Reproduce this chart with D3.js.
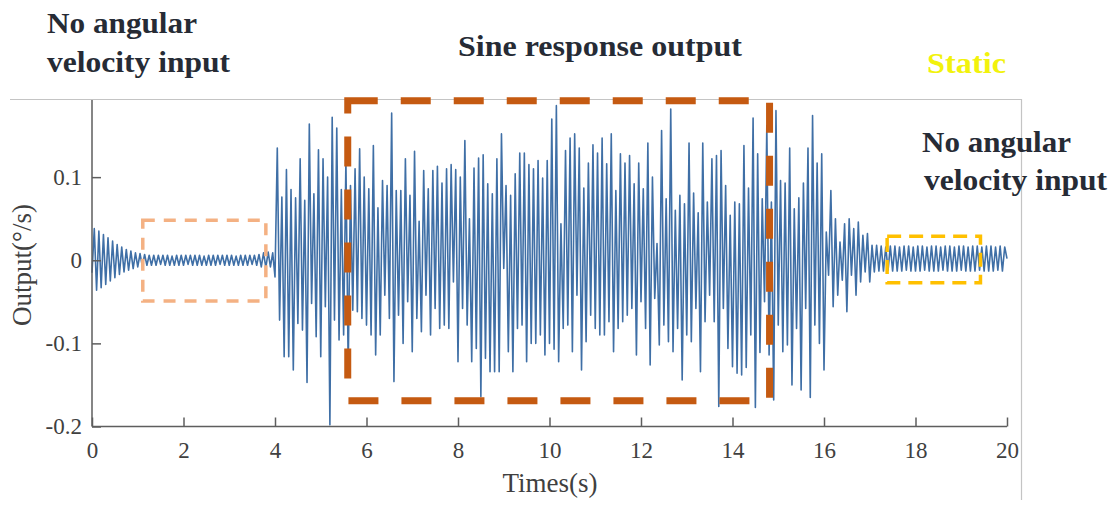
<!DOCTYPE html>
<html>
<head>
  <meta charset="utf-8">
  <script src="https://cdn.jsdelivr.net/npm/d3@7"></script>
  <style>
    body {
      margin: 0;
      background-color: #ffffff;
      font-family: "Liberation Serif", "Times New Roman", serif;
    }
    .axis path, .axis line {
      stroke: #5e5e5e;
      stroke-width: 1.5;
    }
    .axis text {
      font-family: "Liberation Serif", "Times New Roman", serif;
      font-size: 23px;
      fill: #404040;
    }
    .note {
      font-family: "Liberation Serif", "Times New Roman", serif;
      font-weight: 700;
      fill: #262b35;
    }
  </style>
</head>
<body>
<script>
  // sampled output, one value every sampleStep seconds (alternating troughs/peaks)
  var sampleStep = 0.05;

  // 0 - 4 s : no angular velocity input
  var quietSegment = [
    -0.015, 0.038, -0.036, 0.035, -0.033, 0.031, -0.029, 0.027, -0.025, 0.023,
    -0.021, 0.019, -0.017, 0.016, -0.014, 0.013, -0.012, 0.011, -0.010, 0.009,
    -0.008, 0.008, -0.007, 0.007, -0.006, 0.006, -0.006, 0.006, -0.006, 0.006,
    -0.005, 0.006, -0.006, 0.006, -0.006, 0.005, -0.006, 0.006, -0.006, 0.006,
    -0.006, 0.006, -0.005, 0.006, -0.006, 0.006, -0.006, 0.006, -0.006, 0.005,
    -0.006, 0.006, -0.006, 0.006, -0.006, 0.006, -0.005, 0.006, -0.006, 0.006,
    -0.006, 0.006, -0.006, 0.005, -0.006, 0.006, -0.006, 0.006, -0.006, 0.006,
    -0.005, 0.006, -0.006, 0.007, -0.008, 0.009, -0.009, 0.010, -0.008, 0.009
  ];

  // 4 - 16 s : sine response output
  var sineSegment = [
    -0.020, 0.135, -0.072, 0.076, -0.116, 0.109, -0.116, 0.085, -0.132, 0.075,
    -0.076, 0.122, -0.084, 0.072, -0.147, 0.164, -0.052, 0.080, -0.092, 0.133,
    -0.116, 0.122, -0.056, 0.100, -0.198, 0.172, -0.072, 0.159, -0.096, 0.085,
    -0.090, 0.120, -0.130, 0.090, -0.060, 0.110, -0.062, 0.134, -0.070, 0.100,
    -0.078, 0.086, -0.090, 0.138, -0.114, 0.063, -0.090, 0.096, -0.042, 0.090,
    -0.070, 0.177, -0.146, 0.084, -0.066, 0.084, -0.100, 0.122, -0.050, 0.078,
    -0.110, 0.131, -0.070, 0.047, -0.086, 0.108, -0.042, 0.086, -0.090, 0.108,
    -0.058, 0.113, -0.082, 0.093, -0.078, 0.110, -0.082, 0.115, -0.026, 0.109,
    -0.122, 0.100, -0.058, 0.144, -0.078, 0.050, -0.122, 0.111, -0.106, 0.123,
    -0.164, 0.127, -0.118, 0.092, -0.134, 0.080, -0.134, 0.122, -0.134, 0.152,
    -0.010, 0.090, -0.110, 0.078, -0.134, 0.104, -0.082, 0.129, -0.078, 0.129,
    -0.122, 0.115, -0.100, 0.110, -0.100, 0.120, -0.090, 0.099, -0.114, 0.120,
    -0.100, 0.170, -0.107, 0.186, -0.122, 0.044, -0.082, 0.132, -0.078, 0.147,
    -0.110, 0.152, -0.042, 0.135, -0.132, 0.087, -0.098, 0.117, -0.066, 0.139,
    -0.082, 0.129, -0.090, 0.147, -0.090, 0.116, -0.074, 0.152, -0.110, 0.084,
    -0.082, 0.128, -0.074, 0.117, -0.066, 0.126, -0.058, 0.092, -0.114, 0.117,
    -0.050, 0.086, -0.082, 0.141, -0.126, 0.100, -0.046, 0.020, -0.102, 0.156,
    -0.078, 0.074, -0.098, 0.182, -0.110, 0.060, -0.082, 0.078, -0.144, 0.068,
    -0.090, 0.141, -0.098, 0.081, -0.058, 0.057, -0.134, 0.141, -0.074, 0.070,
    -0.042, 0.122, -0.074, 0.126, -0.176, 0.132, -0.058, 0.090, -0.106, 0.054,
    -0.128, 0.070, -0.136, 0.068, -0.138, 0.138, -0.129, 0.087, -0.090, 0.171,
    -0.177, 0.128, -0.111, 0.074, -0.050, 0.162, -0.114, 0.070, -0.168, 0.180,
    -0.078, 0.096, -0.110, 0.093, -0.102, 0.135, -0.150, 0.062, -0.082, 0.075,
    -0.156, 0.093, -0.058, 0.135, -0.165, 0.174, -0.078, 0.117, -0.100, 0.128
  ];

  // 16 - 17.2 s : decay after the input stops
  var decaySegment = [
    -0.132, 0.034, -0.018, 0.084, -0.056, 0.050, -0.042, 0.022, -0.024, 0.044,
    -0.062, 0.050, -0.018, 0.038, -0.042, 0.046, -0.026, 0.030, -0.014, 0.032,
    -0.026, 0.018, -0.014, 0.018
  ];

  // 17.2 - 20 s : static
  var staticSegment = [
    -0.013, 0.017, -0.013, 0.016, -0.012, 0.017, -0.013, 0.017, -0.013, 0.016,
    -0.013, 0.017, -0.012, 0.017, -0.013, 0.016, -0.013, 0.017, -0.013, 0.017,
    -0.012, 0.016, -0.013, 0.017, -0.013, 0.017, -0.013, 0.016, -0.012, 0.017,
    -0.013, 0.017, -0.013, 0.016, -0.013, 0.017, -0.012, 0.017, -0.013, 0.016,
    -0.013, 0.017, -0.013, 0.017, -0.012, 0.016, -0.013, 0.017, -0.013, 0.017,
    -0.013, 0.016, -0.012, 0.017, -0.013, 0.016, 0.002
  ];

  var xTicks = [0, 2, 4, 6, 8, 10, 12, 14, 16, 18, 20];
  var yTicks = [-0.2, -0.1, 0, 0.1];

  // dashed annotation boxes, in data units [t0, t1, vTop, vBottom]
  var boxes = [
    {name: "quiet", t0: 1.11, t1: 3.80, v0: 0.048, v1: -0.049, color: "#f4b183", width: 3.5, dash: "12,9"},
    {name: "sine", t0: 5.59, t1: 14.81, v0: 0.192, v1: -0.169, color: "#c55a11", width: 7, dash: "30,23"},
    {name: "static", t0: 17.38, t1: 19.42, v0: 0.029, v1: -0.027, color: "#ffc000", width: 3.5, dash: "14,8"}
  ];

  var signal = quietSegment.concat(sineSegment, decaySegment, staticSegment)
    .map(function (v, i) { return {t: i * sampleStep, v: v}; });

  var svg = d3.select("body").append("svg")
      .attr("width", 1111)
      .attr("height", 506);

  // image frame (top and right border)
  svg.append("path")
      .attr("d", "M10,99.5H1021.5V500")
      .attr("fill", "none")
      .attr("stroke", "#c4c4c4")
      .attr("stroke-width", 1.2);

  var x = d3.scaleLinear().domain([0, 20]).range([92, 1007]);
  var y = d3.scaleLinear().domain([-0.2, 0.1928]).range([426.5, 100]);

  var line = d3.line()
      .x(function (d) { return x(d.t); })
      .y(function (d) { return y(d.v); });

  svg.append("path")
      .datum(signal)
      .attr("fill", "none")
      .attr("stroke", "#3f6fa6")
      .attr("stroke-width", 1.6)
      .attr("stroke-linejoin", "round")
      .attr("d", line);

  var xAxis = svg.append("g")
      .attr("class", "axis")
      .attr("transform", "translate(0,426.5)")
      .call(d3.axisBottom(x).tickValues(xTicks).tickSize(-9).tickSizeOuter(0)
        .tickPadding(15).tickFormat(function (d) { return String(d); }));

  var yAxis = svg.append("g")
      .attr("class", "axis")
      .attr("transform", "translate(92,0)")
      .call(d3.axisLeft(y).tickValues(yTicks).tickSize(-9).tickSizeOuter(0)
        .tickPadding(10).tickFormat(function (d) { return String(d); }));

  xAxis.select(".domain").attr("d", "M92,0H1007");
  yAxis.select(".domain").attr("d", "M0,426.5V100");

  svg.append("text")
      .attr("x", 550)
      .attr("y", 492)
      .attr("text-anchor", "middle")
      .style("font-size", "27px")
      .style("fill", "#404040")
      .text("Times(s)");

  svg.append("text")
      .attr("transform", "translate(31,265) rotate(-90)")
      .attr("text-anchor", "middle")
      .style("font-size", "27px")
      .style("fill", "#404040")
      .text("Output(°/s)");

  // dashed boxes drawn over the signal
  svg.selectAll("rect.box")
      .data(boxes)
      .enter()
      .append("rect")
      .attr("class", "box")
      .attr("x", function (d) { return x(d.t0); })
      .attr("y", function (d) { return y(d.v0); })
      .attr("width", function (d) { return x(d.t1) - x(d.t0); })
      .attr("height", function (d) { return y(d.v1) - y(d.v0); })
      .attr("fill", "none")
      .attr("stroke", function (d) { return d.color; })
      .attr("stroke-width", function (d) { return d.width; })
      .attr("stroke-dasharray", function (d) { return d.dash; });

  // annotation texts
  var notes = [
    {text: "No angular", x: 47, y: 33, len: 150, size: 29, color: "#262b35"},
    {text: "velocity input", x: 47, y: 72, len: 183, size: 29, color: "#262b35"},
    {text: "Sine response output", x: 458, y: 56, len: 284, size: 30, color: "#262b35"},
    {text: "Static", x: 927, y: 73, len: 79, size: 29, color: "#f2f20c"},
    {text: "No angular", x: 922, y: 152, len: 149, size: 29, color: "#262b35"},
    {text: "velocity input", x: 924, y: 190, len: 183, size: 29, color: "#262b35"}
  ];

  svg.selectAll("text.note")
      .data(notes)
      .enter()
      .append("text")
      .attr("class", "note")
      .attr("x", function (d) { return d.x; })
      .attr("y", function (d) { return d.y; })
      .attr("textLength", function (d) { return d.len; })
      .attr("lengthAdjust", "spacingAndGlyphs")
      .style("font-size", function (d) { return d.size + "px"; })
      .style("fill", function (d) { return d.color; })
      .text(function (d) { return d.text; });
</script>
</body>
</html>
